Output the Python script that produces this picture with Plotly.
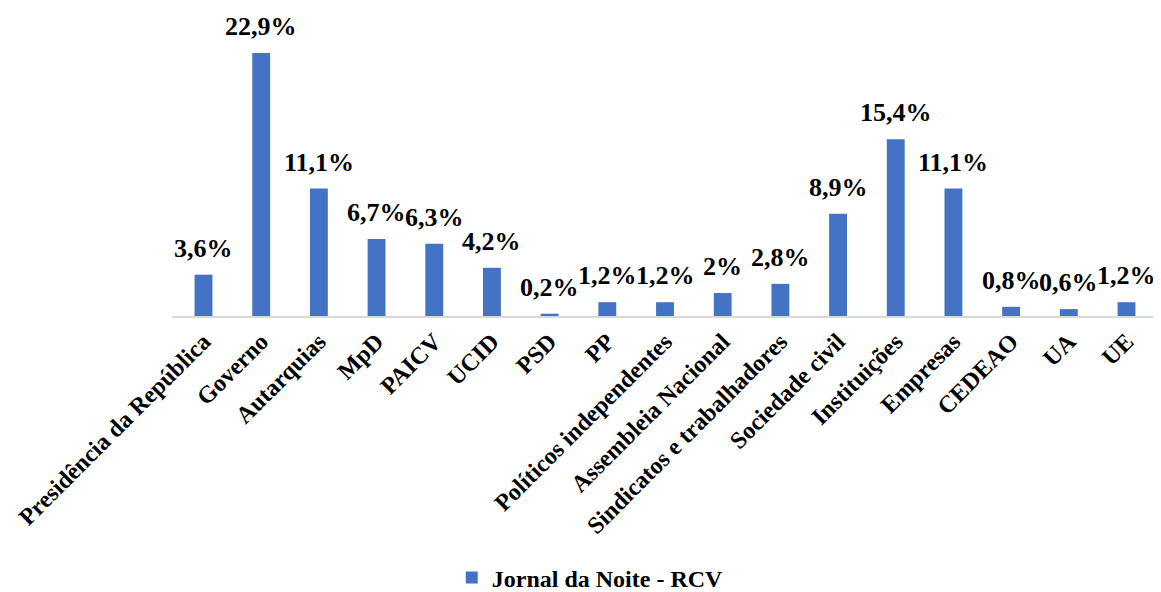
import plotly.graph_objects as go

categories = ["Presidência da República", "Governo", "Autarquias", "MpD", "PAICV", "UCID",
              "PSD", "PP", "Políticos independentes", "Assembleia Nacional",
              "Sindicatos e trabalhadores", "Sociedade civil", "Instituições", "Empresas",
              "CEDEAO", "UA", "UE"]
values = [3.6, 22.9, 11.1, 6.7, 6.3, 4.2, 0.2, 1.2, 1.2, 2, 2.8, 8.9, 15.4, 11.1, 0.8, 0.6, 1.2]
series_name = "Jornal da Noite - RCV"

labels = [f"{v:g}".replace(".", ",") + "%" for v in values]

FONT = "Liberation Serif"

fig = go.Figure(go.Bar(
    x=categories, y=values, name=series_name,
    marker=dict(color="#4472C4", line=dict(width=0)),
    cliponaxis=False,
    showlegend=True,
))

for c, v, t in zip(categories, values, labels):
    fig.add_annotation(x=c, y=v, text=t, showarrow=False, yanchor="bottom", yshift=10,
                       font=dict(family=FONT, size=26, color="black", weight="bold"))

# page body has an 8px default margin, so the figure is sized/placed to compensate
fig.update_layout(
    width=1153, height=584,
    margin=dict(l=164, r=3, t=21, b=276, autoexpand=False),
    paper_bgcolor="white", plot_bgcolor="white",
    bargap=0.69,
    font=dict(family=FONT, color="black", weight="bold"),
    xaxis=dict(tickangle=-45, tickfont=dict(family=FONT, size=24, color="black", weight="bold"),
               showline=True, linecolor="#d9d9d9", linewidth=2, ticks="", showgrid=False),
    yaxis=dict(range=[0, 25], visible=False, showgrid=False),
    legend=dict(orientation="h", xref="container", yref="container", x=0.505, xanchor="center",
                y=0.024, yanchor="middle",
                font=dict(family=FONT, size=24, color="black", weight="bold")),
)

fig.write_html("out.html")
